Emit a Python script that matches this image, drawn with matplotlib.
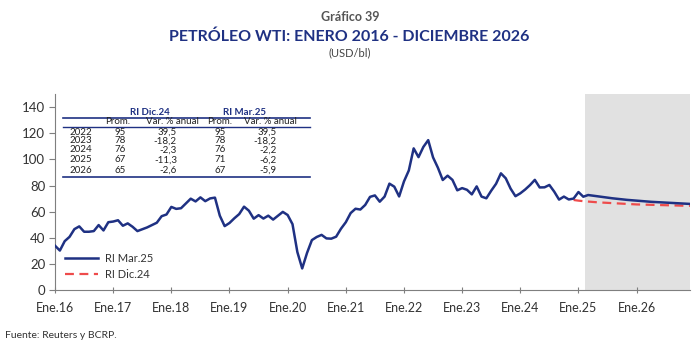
import numpy as np
import matplotlib
matplotlib.use("Agg")
from matplotlib import pyplot as plt
from matplotlib.lines import Line2D

plt.rcParams['font.family'] = ['Lato', 'DejaVu Sans']

# WTI monthly averages, Jan 2016 - Feb 2025 (USD/bl)
wti_hist = [34.0, 30.3, 37.5, 40.8, 46.7, 48.8, 44.7, 44.7, 45.2, 49.8, 45.7, 52.0,
            52.5, 53.5, 49.3, 51.1, 48.5, 45.2, 46.6, 48.0, 49.8, 51.6, 56.6, 57.9,
            63.7, 62.2, 62.7, 66.3, 70.0, 67.9, 71.0, 68.1, 70.2, 70.8, 57.0, 49.0,
            51.4, 55.0, 58.2, 63.9, 60.8, 54.7, 57.4, 54.8, 57.0, 54.0, 57.0, 59.9,
            57.5, 50.5, 29.2, 16.6, 28.5, 38.3, 40.7, 42.3, 39.6, 39.4, 40.9, 47.0,
            52.0, 59.0, 62.3, 61.7, 65.2, 71.4, 72.5, 67.7, 71.6, 81.5, 79.2, 71.7,
            83.2, 91.6, 108.5, 101.8, 109.6, 114.8, 101.6, 93.7, 84.3, 87.6, 84.4, 76.4,
            78.1, 76.8, 73.3, 79.4, 71.6, 70.3, 76.1, 81.4, 89.4, 85.6, 77.7, 71.9,
            74.1, 77.0, 80.4, 84.4, 78.6, 78.7, 80.5, 75.4, 69.3, 71.6, 69.4, 70.1,
            75.1, 71.5]
# RI Mar.25 projection, Mar 2025 - Dec 2026
ri_mar25_proj = [72.8, 72.3, 71.8, 71.3, 70.8, 70.3, 69.9, 69.5, 69.1, 68.8,
                 68.5, 68.2, 67.9, 67.6, 67.4, 67.2, 67.0, 66.8, 66.6, 66.4, 66.2, 66.0]
# RI Dic.24 projection, Dec 2024 - Dec 2026
ri_dic24_proj = [69.0,
                 68.5, 68.1, 67.8, 67.5, 67.2, 67.0, 66.8, 66.6, 66.4, 66.2, 66.0, 65.8,
                 65.6, 65.5, 65.4, 65.3, 65.2, 65.1, 65.0, 64.9, 64.8, 64.7, 64.6, 64.5]

tick_labels = ["Ene.16", "Ene.17", "Ene.18", "Ene.19", "Ene.20", "Ene.21",
               "Ene.22", "Ene.23", "Ene.24", "Ene.25", "Ene.26"]

# summary table
tbl_years = ["2022", "2023", "2024", "2025", "2026"]
dic24_prom = ["95", "78", "76", "67", "65"]
dic24_var = ["39,5", "-18,2", "-2,3", "-11,3", "-2,6"]
mar25_prom = ["95", "78", "76", "71", "67"]
mar25_var = ["39,5", "-18,2", "-2,2", "-6,2", "-5,9"]

NAVY = "#1f3183"
RED = "#ee4b4b"
GREY = "#7f7f7f"

blue = np.array(wti_hist + ri_mar25_proj)
x_blue = np.arange(len(blue))
x_red = np.arange(len(ri_dic24_proj)) + 107

fig = plt.figure(figsize=(7, 3.5), dpi=100)
ax = fig.add_axes([0.0786, 0.171, 0.907, 0.560])

ax.axvspan(109.3, 131, color="#e1e1e1", lw=0, zorder=0)
ax.plot(x_red, ri_dic24_proj, color=RED, lw=1.6, ls=(0, (4, 2.5)), zorder=2)
ax.plot(x_blue, blue, color=NAVY, lw=1.8, zorder=3)

ax.set_xlim(0, 131)
ax.set_ylim(0, 150)
ax.set_yticks(range(0, 141, 20))
ax.set_xticks(range(0, 121, 12))
ax.set_xticklabels(tick_labels)
for s in ["top", "right"]:
    ax.spines[s].set_visible(False)
for s in ["left", "bottom"]:
    ax.spines[s].set_color(GREY)
    ax.spines[s].set_linewidth(0.8)
ax.tick_params(axis="y", direction="out", length=4, color=GREY, labelsize=9.5,
               labelcolor="#333333", pad=3)
ax.tick_params(axis="x", direction="inout", length=5, color=GREY, labelsize=9,
               labelcolor="#333333", pad=6)

handles = [Line2D([], [], color=NAVY, lw=1.8),
           Line2D([], [], color=RED, lw=1.6, ls=(0, (4, 2.5)))]
ax.legend(handles, ["RI Mar.25", "RI Dic.24"], loc="lower left",
          bbox_to_anchor=(0.0, 0.0), frameon=False, fontsize=8,
          handlelength=3.0, handletextpad=0.6, labelspacing=0.45,
          labelcolor="#333333")


def px(x, y):
    return x / 700, 1 - y / 350


# titles
fig.text(*px(350, 17), "Gráfico 39", ha="center", va="center",
         fontsize=9, fontweight="bold", color="#555555")
fig.text(*px(349, 37), "PETRÓLEO WTI: ENERO 2016 - DICIEMBRE 2026", ha="center",
         va="center", fontsize=11.5, fontweight="bold", color=NAVY)
fig.text(*px(350, 53), "(USD/bl)", ha="center", va="center", fontsize=8,
         color="#444444")
fig.text(*px(5, 336), "Fuente: Reuters y BCRP.", ha="left", va="center",
         fontsize=7.5, color="#333333")

# table
tfs = 7
fig.text(*px(150, 112), "RI Dic.24", ha="center", va="center", fontsize=tfs,
         fontweight="bold", color=NAVY)
fig.text(*px(245, 112), "RI Mar.25", ha="center", va="center", fontsize=tfs,
         fontweight="bold", color=NAVY)
for yy, lw in [(118, 1.2), (127, 1.0), (177, 1.2)]:
    fig.add_artist(Line2D([63 / 700, 310 / 700], [1 - yy / 350] * 2,
                          color=NAVY, lw=lw))
for xx, lab in [(118, "Prom."), (172, "Var. % anual"), (220, "Prom."),
                (270, "Var. % anual")]:
    fig.text(*px(xx, 122), lab, ha="center", va="center", fontsize=tfs,
             color="#222222")
row_y = [132, 141, 150, 160, 170]
for i, yy in enumerate(row_y):
    fig.text(*px(69, yy), tbl_years[i], ha="left", va="center", fontsize=tfs,
             color="#222222")
    fig.text(*px(120, yy), dic24_prom[i], ha="center", va="center",
             fontsize=tfs, color="#222222")
    fig.text(*px(177, yy), dic24_var[i], ha="right", va="center",
             fontsize=tfs, color="#222222")
    fig.text(*px(220, yy), mar25_prom[i], ha="center", va="center",
             fontsize=tfs, color="#222222")
    fig.text(*px(277, yy), mar25_var[i], ha="right", va="center",
             fontsize=tfs, color="#222222")

fig.savefig("out.png", dpi=100)
